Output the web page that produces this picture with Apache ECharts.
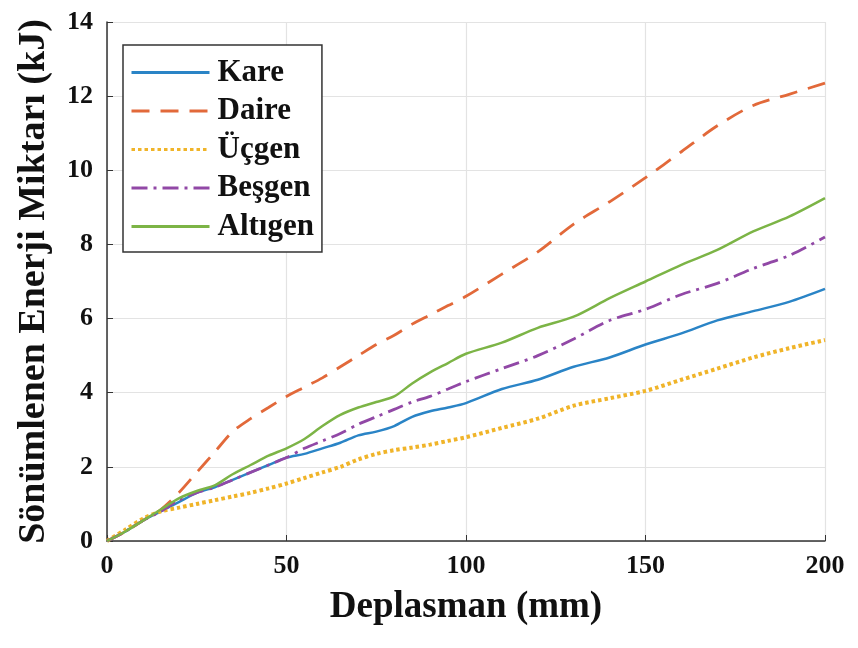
<!DOCTYPE html>
<html>
<head>
<meta charset="utf-8">
<script src="https://cdn.jsdelivr.net/npm/echarts@6/dist/echarts.min.js"></script>
<style>
  html, body { margin: 0; padding: 0; background: #fff; }
  #chart { width: 858px; height: 648px; }
</style>
</head>
<body>
<div id="chart"></div>
<script>
  // deplasman (mm)
  var deplasman = [0, 5, 10, 15, 20, 25, 30, 35, 40, 45, 50, 55, 60, 65, 70, 75, 80, 85, 90, 95, 100,
                   110, 120, 130, 140, 150, 160, 170, 180, 190, 200];

  // sönümlenen enerji (kJ)
  var kare    = [0, 0.25, 0.55, 0.8, 1.05, 1.3, 1.45, 1.65, 1.85, 2.05, 2.25, 2.35, 2.5, 2.65, 2.85, 2.95, 3.1, 3.35, 3.5, 3.6, 3.72,
                 4.1, 4.35, 4.7, 4.95, 5.3, 5.6, 5.95, 6.2, 6.45, 6.8];
  var daire   = [0, 0.25, 0.55, 0.85, 1.3, 1.85, 2.4, 2.95, 3.3, 3.6, 3.9, 4.15, 4.4, 4.7, 5.0, 5.3, 5.55, 5.85, 6.1, 6.35, 6.6,
                 7.2, 7.8, 8.55, 9.15, 9.8, 10.5, 11.2, 11.75, 12.05, 12.35];
  var ucgen   = [0, 0.3, 0.6, 0.8, 0.9, 1.0, 1.1, 1.2, 1.3, 1.42, 1.55, 1.7, 1.85, 2.0, 2.2, 2.35, 2.45, 2.52, 2.6, 2.7, 2.8,
                 3.05, 3.3, 3.65, 3.85, 4.05, 4.35, 4.65, 4.95, 5.2, 5.42];
  var besgen  = [0, 0.25, 0.55, 0.8, 1.1, 1.3, 1.45, 1.65, 1.85, 2.05, 2.25, 2.5, 2.7, 2.9, 3.15, 3.35, 3.55, 3.75, 3.9, 4.1, 4.3,
                 4.65, 5.0, 5.45, 5.95, 6.25, 6.65, 6.95, 7.35, 7.7, 8.2];
  var altigen = [0, 0.25, 0.55, 0.85, 1.15, 1.35, 1.5, 1.8, 2.05, 2.3, 2.5, 2.75, 3.1, 3.4, 3.6, 3.75, 3.9, 4.25, 4.55, 4.8, 5.05,
                 5.35, 5.75, 6.05, 6.55, 7.0, 7.45, 7.85, 8.35, 8.75, 9.25];

  var seriesNames = ['Kare', 'Daire', 'Üçgen', 'Beşgen', 'Altıgen'];

  function pairs(ys) {
    return deplasman.map(function (x, i) { return [x, ys[i]]; });
  }

  var font = '"Liberation Serif", "Times New Roman", serif';
  var chart = echarts.init(document.getElementById('chart'));

  function line(name, ys, color, type, width) {
    return {
      name: name,
      type: 'line',
      data: pairs(ys),
      symbol: 'none',
      smooth: 0.3,
      lineStyle: { color: color, width: width, type: type, cap: 'butt' },
      itemStyle: { color: color }
    };
  }

  var option = {
    backgroundColor: '#fff',
    animation: false,
    grid: { left: 107, right: 33, top: 22, bottom: 107 },
    legend: {
      data: seriesNames,
      orient: 'vertical',
      left: 123,
      top: 45,
      padding: [12, 8, 10, 7],
      itemWidth: 78,
      itemHeight: 14,
      itemGap: 7.5,
      itemStyle: { opacity: 0 },
      lineStyle: { width: 3 },
      backgroundColor: '#fff',
      borderColor: '#333',
      borderWidth: 1.5,
      borderRadius: 0,
      textStyle: { fontFamily: font, fontWeight: 'bold', fontSize: 31, color: '#111', padding: [0, 0, 0, 3] }
    },
    xAxis: {
      type: 'value',
      min: 0, max: 200, interval: 50,
      name: 'Deplasman (mm)',
      nameLocation: 'middle',
      nameGap: 48,
      nameTextStyle: { fontFamily: font, fontWeight: 'bold', fontSize: 37, color: '#111' },
      axisLine: { lineStyle: { color: '#333', width: 1.5 } },
      axisTick: { inside: true, length: 6, lineStyle: { color: '#333' } },
      axisLabel: { fontFamily: font, fontWeight: 'bold', fontSize: 26, color: '#111', margin: 12 },
      splitLine: { show: true, lineStyle: { color: '#e3e3e3', width: 1.2 } }
    },
    yAxis: {
      type: 'value',
      min: 0, max: 14, interval: 2,
      name: 'Sönümlenen Enerji Miktarı (kJ)',
      nameLocation: 'middle',
      nameGap: 54,
      nameTextStyle: { fontFamily: font, fontWeight: 'bold', fontSize: 38, color: '#111' },
      axisLine: { show: true, lineStyle: { color: '#333', width: 1.5 } },
      axisTick: { show: true, inside: true, length: 6, lineStyle: { color: '#333' } },
      axisLabel: { fontFamily: font, fontWeight: 'bold', fontSize: 26, color: '#111', margin: 14 },
      splitLine: { show: true, lineStyle: { color: '#e3e3e3', width: 1.2 } }
    },
    series: [
      line('Kare', kare, '#2a84c6', 'solid', 2.5),
      line('Daire', daire, '#e2693a', [18, 11], 2.8),
      line('Üçgen', ucgen, '#f0b429', [3.5, 3], 4),
      line('Beşgen', besgen, '#9148a6', [16, 6, 3, 6], 2.8),
      line('Altıgen', altigen, '#7cb446', 'solid', 2.5)
    ]
  };

  chart.setOption(option);
</script>
</body>
</html>
